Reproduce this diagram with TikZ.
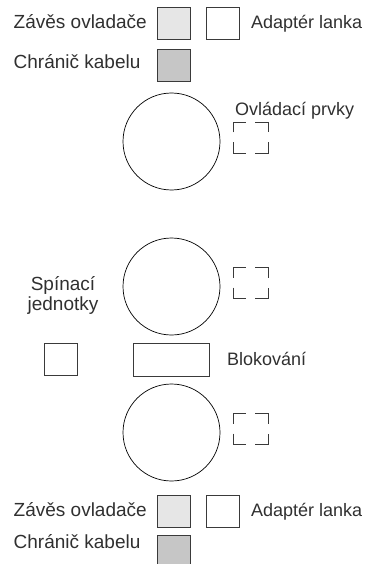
\documentclass[tikz,border=0pt]{standalone}
\usepackage{fontspec}
\setmainfont{Liberation Sans}
\definecolor{txt}{HTML}{303030}
\definecolor{edge}{HTML}{3A3A3A}
\definecolor{lightfill}{HTML}{E6E6E6}
\definecolor{darkfill}{HTML}{C6C6C6}
\begin{document}
\begin{tikzpicture}[x=1pt,y=-1pt,
  lbl/.style={inner sep=0pt, text=txt, font=\fontsize{18}{20}\selectfont},
  lbll/.style={inner sep=0pt, text=txt, font=\fontsize{19}{20}\selectfont},
  sqbox/.style={draw=edge, line width=0.8pt, inner sep=0pt, outer sep=0pt, minimum width=33pt, minimum height=32pt},
  ring/.style={draw=black, line width=0.7pt, circle, inner sep=0pt, minimum size=97pt},
  corner/.style={draw=edge, line width=0.8pt}]
\useasboundingbox (0,0) rectangle (368,564);
\clip (0,0) rectangle (368,564);
% top group
\node[sqbox, fill=lightfill] (z1) at (173.5,23.5) {};
\node[sqbox, fill=white] (a1) at (222.5,23.5) {};
\node[sqbox, fill=darkfill] (k1) at (173.5,65) {};
\node[lbll, anchor=base west] (tz1) at (13.5,29) {Závěs ovladače};
\node[lbl, anchor=base west] (ta1) at (251,29) {Adaptér lanka};
\node[lbll, anchor=base west] (tk1) at (13.5,68.5) {Chránič kabelu};
% circles
\node[ring] (c1) at (171.5,141.5) {};
\node[ring] (c2) at (171.5,286.5) {};
\node[ring] (c3) at (171.5,432.5) {};
\node[lbl, anchor=base west] (tov) at (235,115.5) {Ovládací prvky};
% dashed corner boxes
\foreach \cy in {141.5,286.5,432.5}{
  \draw[corner] (233,\cy-9) -- (233,\cy-19.5) -- (246,\cy-19.5);
  \draw[corner] (255,\cy-19.5) -- (268,\cy-19.5) -- (268,\cy-9);
  \draw[corner] (233,\cy+1) -- (233,\cy+11.5) -- (246,\cy+11.5);
  \draw[corner] (255,\cy+11.5) -- (268,\cy+11.5) -- (268,\cy+1);
}
% middle
\node[lbll, align=center, anchor=base] (sp) at (63,310) {Spínací\\[-0.5pt]jednotky};
\node[sqbox, fill=white] (s1) at (60.5,359.5) {};
\node[draw=edge, line width=0.8pt, fill=white, inner sep=0pt, minimum width=76pt, minimum height=33pt] (bl) at (171,359.5) {};
\node[lbl, anchor=base west] (tbl) at (227,365.5) {Blokování};
% bottom group
\node[sqbox, fill=lightfill] (z2) at (173.5,511) {};
\node[sqbox, fill=white] (a2) at (222.5,511) {};
\node[sqbox, fill=darkfill, minimum height=33pt] (k2) at (173.5,551.5) {};
\node[lbll, anchor=base west] (tz2) at (13.5,516) {Závěs ovladače};
\node[lbl, anchor=base west] (ta2) at (251,516) {Adaptér lanka};
\node[lbll, anchor=base west] (tk2) at (13.5,548) {Chránič kabelu};
\end{tikzpicture}
\end{document}
